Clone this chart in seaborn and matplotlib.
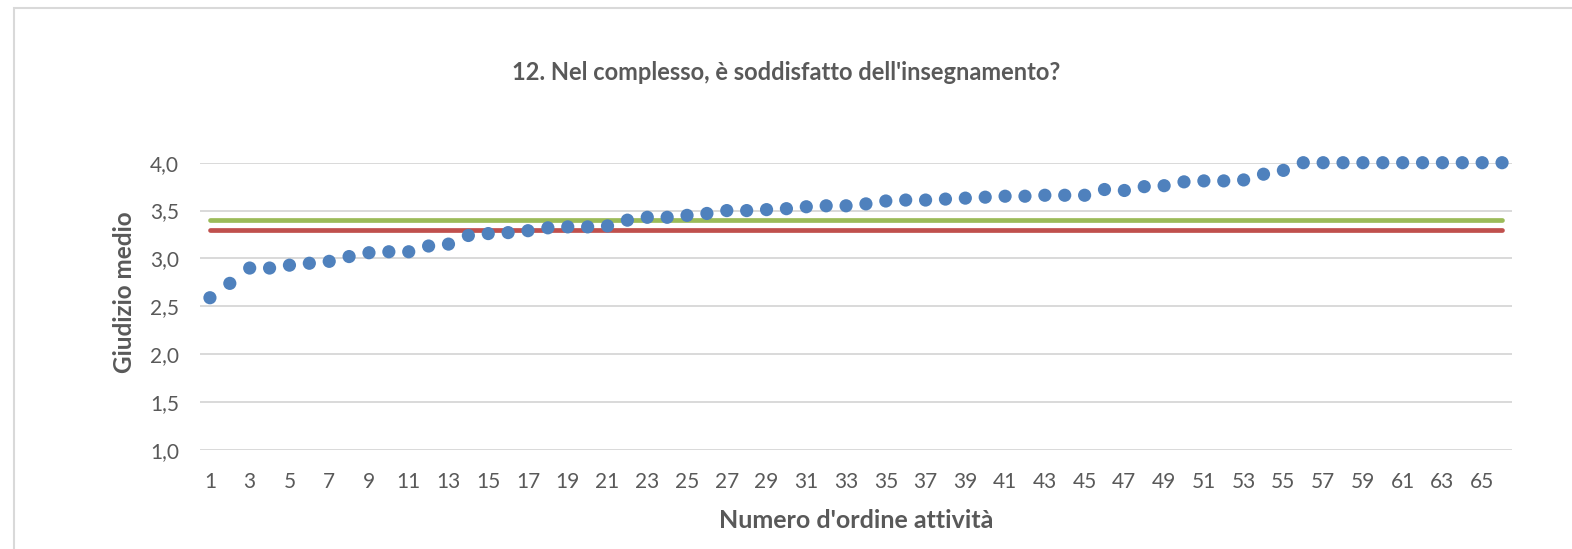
import numpy as np
import pandas as pd
import seaborn as sns
import matplotlib.pyplot as plt
from matplotlib.patches import Rectangle
from matplotlib.ticker import FuncFormatter

# mean ratings per activity, sorted ascending
activity = list(range(1, 67))
rating = [2.59, 2.74, 2.90, 2.90, 2.93, 2.95, 2.97, 3.02, 3.06, 3.07,
          3.07, 3.13, 3.15, 3.24, 3.26, 3.27, 3.29, 3.32, 3.33, 3.33,
          3.34, 3.40, 3.43, 3.43, 3.45, 3.47, 3.50, 3.50, 3.51, 3.52,
          3.54, 3.55, 3.55, 3.57, 3.60, 3.61, 3.61, 3.62, 3.63, 3.64,
          3.65, 3.65, 3.66, 3.66, 3.66, 3.72, 3.71, 3.75, 3.76, 3.80,
          3.81, 3.81, 3.82, 3.88, 3.92, 4.00, 4.00, 4.00, 4.00, 4.00,
          4.00, 4.00, 4.00, 4.00, 4.00, 4.00]
ref_green = 3.40
ref_red = 3.30
y_ticks = [1.0, 1.5, 2.0, 2.5, 3.0, 3.5, 4.0]
x_ticks = list(range(1, 67, 2))

title = "12. Nel complesso, è soddisfatto dell'insegnamento?"
xlabel = "Numero d'ordine attività"
ylabel = "Giudizio medio"

df = pd.DataFrame({"activity": activity, "rating": rating})
ends = [activity[0], activity[-1]]
ref_df = pd.DataFrame({
    "x": ends * 2,
    "y": [ref_green] * 2 + [ref_red] * 2,
    "ref": ["green"] * 2 + ["red"] * 2,
})

sns.set_theme(style="white")
plt.rcParams["font.family"] = ["Lato", "DejaVu Sans"]

text_col = "#595959"
grid_col = "#d9d9d9"

fig = plt.figure(figsize=(15.72, 5.49), dpi=100)
ax = fig.add_axes([200 / 1572, 1 - 450 / 549, 1312 / 1572, 287.3 / 549])

# chart border
fig.patches.append(Rectangle((14 / 1572, -0.1), 1.2, 1 - 8 / 549 + 0.1,
                             transform=fig.transFigure, fill=False,
                             edgecolor=grid_col, linewidth=1.5))

sns.lineplot(data=ref_df, x="x", y="y", hue="ref",
             palette={"green": "#9bbb59", "red": "#c0504d"},
             linewidth=3.4, solid_capstyle="round", legend=False, ax=ax,
             zorder=2)
sns.scatterplot(data=df, x="activity", y="rating", color="#4f81bd",
                s=90, edgecolor="none", ax=ax, zorder=3, clip_on=False)

ax.set_xlim(0.5, 66.5)
ax.set_ylim(1.0, 4.0)
ax.set_yticks(y_ticks)
ax.set_xticks(x_ticks)
ax.yaxis.set_major_formatter(FuncFormatter(lambda v, p: f"{v:.1f}".replace(".", ",")))
ax.grid(axis="y", color=grid_col, linewidth=1.4)
ax.grid(axis="x", visible=False)
ax.set_axisbelow(True)
for s in ax.spines.values():
    s.set_visible(False)
ax.tick_params(axis="both", length=0, labelsize=15, colors=text_col)
ax.tick_params(axis="x", pad=16)
ax.tick_params(axis="y", pad=15)

ax.set_xlabel(xlabel, fontsize=18, fontweight="bold", color=text_col, va="center")
ax.set_ylabel(ylabel, fontsize=17.5, fontweight="bold", color=text_col, va="center")
ax.xaxis.set_label_coords(0.5, (450 - 520) / 287.3)
ax.yaxis.set_label_coords((124 - 200) / 1312, (450 - 292) / 287.3)
fig.text(786 / 1572, 1 - 73 / 549, title, ha="center", va="center",
         fontsize=17, fontweight="bold", color=text_col)

fig.savefig("out.png", dpi=100)
